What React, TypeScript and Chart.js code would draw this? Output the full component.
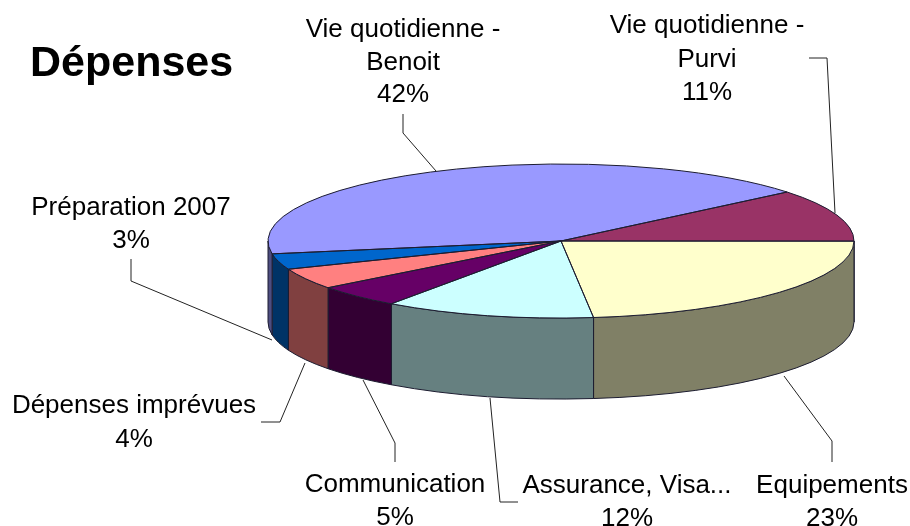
import React, { useEffect, useRef } from "react";
import { Chart, registerables } from "chart.js";

Chart.register(...registerables);

const categories = [
  "Vie quotidienne - Purvi",
  "Equipements",
  "Assurance, Visa...",
  "Communication",
  "Dépenses imprévues",
  "Préparation 2007",
  "Vie quotidienne - Benoit",
];
const values = [11, 23.2, 11.6, 4.8, 4.4, 3.3, 41.7];
const topColors = ["#993366", "#FFFFCC", "#CCFFFF", "#660066", "#FF8080", "#0066CC", "#9999FF"];
const sideColors = ["#4D1A33", "#808066", "#668080", "#330033", "#804040", "#003366", "#4D4D80"];
const labelLines = [
  ["Vie quotidienne -", "Purvi"],
  ["Equipements"],
  ["Assurance, Visa..."],
  ["Communication"],
  ["Dépenses imprévues"],
  ["Préparation 2007"],
  ["Vie quotidienne -", "Benoit"],
];
const titleText = "Dépenses";

// layout of text and leader lines
const labelCenters = [707, 832, 627, 395, 134, 131, 403];
const labelBaselines = [
  [33, 67, 100],
  [493, 526],
  [493, 526],
  [492, 525],
  [413, 447],
  [215, 248],
  [37, 70, 102],
];
const leaders = [
  [[809, 58], [827, 58], [835, 213]],
  [[784, 376], [832, 441], [832, 462]],
  [[490, 398], [500, 502], [518, 502]],
  [[363, 380], [395, 443], [395, 462]],
  [[305, 363], [280, 422], [261, 422]],
  [[131, 259], [131, 281], [272, 340]],
  [[403, 114], [403, 133], [436, 171]],
];

const RADIUS = 293;
const SQUASH = 0.2628;
const DEPTH = 81;
const OUTLINE = "#1c1c30";
const FONT_FAMILY = '"Liberation Sans", Arial, sans-serif';

const pie3d = {
  id: "pie3d",
  beforeDatasetsDraw(chart: any) {
    const ctx = chart.ctx;
    const arcs = chart.getDatasetMeta(0).data;
    const { x: cx, y: cy, outerRadius: rx } = arcs[0];
    const ry = rx * SQUASH;
    ctx.save();
    arcs.forEach((arc: any, i: number) => {
      const a1 = Math.max(arc.startAngle, 0);
      const a2 = Math.min(arc.endAngle, Math.PI);
      if (a2 <= a1) return;
      ctx.beginPath();
      ctx.ellipse(cx, cy, rx, ry, 0, a1, a2);
      ctx.ellipse(cx, cy + DEPTH, rx, ry, 0, a2, a1, true);
      ctx.closePath();
      ctx.fillStyle = sideColors[i];
      ctx.fill();
      ctx.lineWidth = 1;
      ctx.strokeStyle = OUTLINE;
      ctx.stroke();
    });
    ctx.restore();
    ctx.save();
    ctx.translate(cx, cy);
    ctx.scale(1, SQUASH);
    ctx.translate(-cx, -cy);
  },
  afterDatasetsDraw(chart: any) {
    const ctx = chart.ctx;
    ctx.restore();
    const arcs = chart.getDatasetMeta(0).data;
    const { x: cx, y: cy, outerRadius: rx } = arcs[0];
    const ry = rx * SQUASH;
    ctx.save();
    ctx.lineWidth = 1;
    ctx.strokeStyle = OUTLINE;
    arcs.forEach((arc: any) => {
      ctx.beginPath();
      ctx.moveTo(cx, cy);
      ctx.ellipse(cx, cy, rx, ry, 0, arc.startAngle, arc.endAngle);
      ctx.closePath();
      ctx.stroke();
    });
    ctx.restore();
  },
  afterDraw(chart: any) {
    const ctx = chart.ctx;
    ctx.save();
    ctx.strokeStyle = "#222222";
    ctx.lineWidth = 1;
    leaders.forEach((pts) => {
      ctx.beginPath();
      pts.forEach(([x, y], i) => (i ? ctx.lineTo(x, y) : ctx.moveTo(x, y)));
      ctx.stroke();
    });
    ctx.fillStyle = "#000000";
    ctx.textBaseline = "alphabetic";
    ctx.textAlign = "center";
    ctx.font = `26px ${FONT_FAMILY}`;
    categories.forEach((_, i) => {
      const lines = [...labelLines[i], `${Math.round(values[i])}%`];
      lines.forEach((t, k) => ctx.fillText(t, labelCenters[i], labelBaselines[i][k]));
    });
    ctx.textAlign = "left";
    ctx.font = `bold 43px ${FONT_FAMILY}`;
    ctx.fillText(titleText, 30, 76);
    ctx.restore();
  },
};

export default function App() {
  const ref = useRef<HTMLCanvasElement>(null);
  useEffect(() => {
    const chart = new Chart(ref.current!, {
      type: "pie",
      data: {
        labels: categories,
        datasets: [{ data: values, backgroundColor: topColors, borderWidth: 0, clip: false } as any],
      },
      options: {
        animation: false,
        responsive: false,
        rotation: 50.5,
        radius: RADIUS,
        layout: { padding: { left: 212, bottom: 44 } },
        plugins: { legend: { display: false }, tooltip: { enabled: false } },
      } as any,
      plugins: [pie3d],
    });
    return () => chart.destroy();
  }, []);
  return (
    <canvas
      ref={ref}
      width={910}
      height={526}
      style={{ position: "absolute", left: 0, top: 0, background: "#ffffff" }}
    />
  );
}
